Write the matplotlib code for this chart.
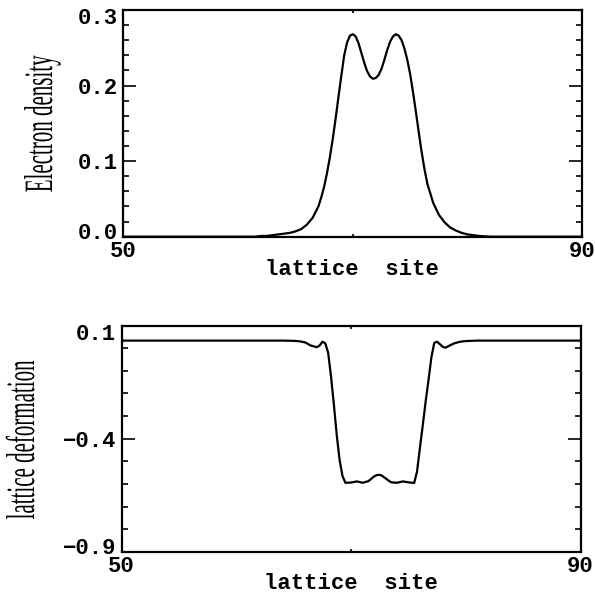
import matplotlib
matplotlib.use("Agg")
import matplotlib.pyplot as plt
from matplotlib.patheffects import AbstractPathEffect
from matplotlib.transforms import Affine2D, ScaledTranslation
from matplotlib.ticker import MultipleLocator
from matplotlib.path import Path

# ---------------- data ----------------
density_site = [50, 61, 61.5, 62, 62.5, 63, 63.5, 64, 64.5, 65, 65.5, 66, 66.5, 67, 67.25,
                67.5, 67.75, 68, 68.25, 68.5, 68.75, 69, 69.25, 69.5, 69.75, 70, 70.25,
                70.5, 70.75, 71, 71.25, 71.5, 71.75, 72, 72.25, 72.5, 72.75, 73, 73.25,
                73.5, 73.75, 74, 74.25, 74.5, 74.75, 75, 75.25, 75.5, 75.75, 76, 76.25,
                76.5, 77, 77.5, 78, 78.5, 79, 79.5, 80, 80.5, 81, 82, 90]
density = [0.0, 0.0, 0.0, 0.001, 0.001, 0.002, 0.003, 0.004, 0.005, 0.007, 0.010, 0.016,
           0.025, 0.040, 0.052, 0.066, 0.084, 0.105, 0.129, 0.156, 0.185, 0.213, 0.240,
           0.257, 0.266, 0.268, 0.265, 0.256, 0.243, 0.230, 0.219, 0.212, 0.209, 0.210,
           0.214, 0.222, 0.234, 0.247, 0.258, 0.265, 0.268, 0.266, 0.260, 0.249, 0.234,
           0.215, 0.191, 0.165, 0.138, 0.112, 0.089, 0.070, 0.045, 0.029, 0.019, 0.012,
           0.008, 0.005, 0.003, 0.002, 0.001, 0.0, 0.0]

deform_site = [50, 64, 65, 65.5, 66, 66.5, 67, 67.25, 67.5, 67.75, 68, 68.25, 68.5, 68.75,
               69, 69.25, 69.5, 70, 70.5, 71, 71.5, 71.75, 72, 72.2, 72.4, 72.6, 73, 73.25,
               73.5, 74, 74.5, 75, 75.5, 75.75, 76, 76.25, 76.5, 76.75, 77, 77.25, 77.5,
               77.75, 78, 78.25, 78.5, 79, 79.5, 80, 81, 90]
deform = [0.034, 0.034, 0.033, 0.031, 0.026, 0.012, 0.005, 0.012, 0.029, 0.022, -0.020,
          -0.125, -0.250, -0.385, -0.495, -0.565, -0.595, -0.594, -0.589, -0.595, -0.588,
          -0.578, -0.567, -0.562, -0.560, -0.561, -0.575, -0.585, -0.593, -0.595, -0.589,
          -0.593, -0.596, -0.545, -0.440, -0.340, -0.235, -0.140, -0.040, 0.024, 0.029,
          0.018, 0.006, 0.003, 0.010, 0.022, 0.029, 0.032, 0.034, 0.034]

x_ticks = [50, 70, 90]
x_tick_labels = ["50", "", "90"]
top_yticks = [0.0, 0.1, 0.2, 0.3]
top_ytick_labels = ["0.0", "0.1", "0.2", "0.3"]
bot_yticks = [-0.9, -0.4, 0.1]
bot_ytick_labels = ["\u22120.9", "\u22120.4", "0.1"]

# ---------------- style ----------------
plt.rcParams["font.family"] = ["Liberation Mono", "DejaVu Sans Mono"]
plt.rcParams["font.weight"] = "bold"

W, H = 595, 596
DPI = 100
fig = plt.figure(figsize=(W / DPI, H / DPI), dpi=DPI)


class TallGlyphs(AbstractPathEffect):
    """Stretch glyphs perpendicular to the writing direction (tall, condensed look)."""

    def __init__(self, sx, sy):
        super().__init__()
        self.sx = sx
        self.sy = sy

    def draw_path(self, renderer, gc, tpath, affine, rgbFace=None):
        v = tpath.vertices
        codes = tpath.codes
        vv = v[codes != Path.CLOSEPOLY] if codes is not None else v
        cx = 0.5 * (vv[:, 0].min() + vv[:, 0].max())
        t = Affine2D().translate(-cx, 0).scale(self.sx, self.sy).translate(cx, 0)
        renderer.draw_path(gc, t.transform_path(tpath), affine, rgbFace)


def px_axes(left, top, right, bottom):
    return fig.add_axes([left / W, 1 - bottom / H, (right - left) / W, (bottom - top) / H])


def style_axes(ax, yticks, ylabels, minor_step):
    for s in ax.spines.values():
        s.set_linewidth(1.6)
    ax.set_xlim(50, 90)
    ax.set_xticks(x_ticks)
    ax.set_xticklabels(x_tick_labels, fontsize=16, fontweight="bold")
    ax.set_yticks(yticks)
    ax.set_yticklabels(ylabels, fontsize=16, fontweight="bold")
    ax.yaxis.set_minor_locator(MultipleLocator(minor_step))
    ax.tick_params(axis="x", which="major", direction="in", length=2.5, width=1.2,
                   top=True, bottom=True, pad=3)
    ax.tick_params(axis="y", which="major", direction="in", length=9.2, width=1.2,
                   left=True, right=True, pad=4)
    ax.tick_params(axis="y", which="minor", direction="in", length=4.5, width=1.2,
                   left=True, right=True)
    ax.tick_params(axis="x", which="minor", bottom=False, top=False)
    labs = ax.get_yticklabels()
    labs[0].set_transform(labs[0].get_transform() + ScaledTranslation(0, 6 / DPI, fig.dpi_scale_trans))
    labs[-1].set_transform(labs[-1].get_transform() + ScaledTranslation(0, -6 / DPI, fig.dpi_scale_trans))


# ---------------- top panel ----------------
ax1 = px_axes(123.3, 10, 582.3, 236.7)
ax1.plot(density_site, density, color="black", lw=1.6, solid_joinstyle="round")
ax1.set_ylim(0.0, 0.3)
style_axes(ax1, top_yticks, top_ytick_labels, 0.02)

# ---------------- bottom panel ----------------
ax2 = px_axes(121.7, 325.7, 580.5, 551.7)
ax2.plot(deform_site, deform, color="black", lw=1.6, solid_joinstyle="round")
ax2.set_ylim(-0.9, 0.1)
style_axes(ax2, bot_yticks, bot_ytick_labels, 0.1)

# ---------------- axis titles ----------------
fig.text(352 / W, 1 - 275 / H, "lattice  site", ha="center", va="baseline",
         fontsize=16, fontweight="bold")
fig.text(351 / W, 1 - 589 / H, "lattice  site", ha="center", va="baseline",
         fontsize=16, fontweight="bold")

fig.text(52 / W, 1 - 123.5 / H, "Electron density", rotation=90, rotation_mode="anchor",
         ha="center", va="baseline", fontsize=15.1, fontweight="normal",
         family=["Liberation Serif", "DejaVu Serif"], path_effects=[TallGlyphs(1.0, 1.92)])
fig.text(34 / W, 1 - 439.5 / H, "lattice deformation", rotation=90, rotation_mode="anchor",
         ha="center", va="baseline", fontsize=15.1, fontweight="normal",
         family=["Liberation Serif", "DejaVu Serif"], path_effects=[TallGlyphs(1.0, 1.92)])

fig.savefig("out.png", dpi=DPI)
